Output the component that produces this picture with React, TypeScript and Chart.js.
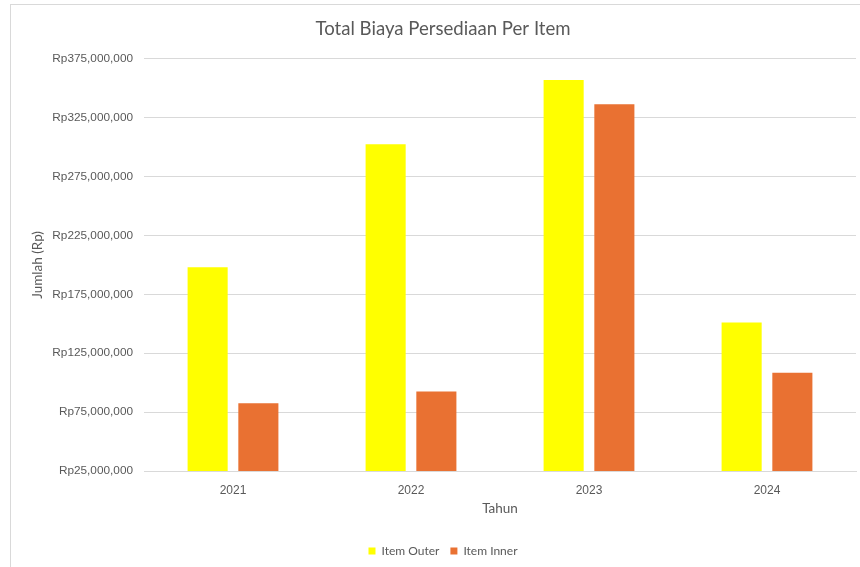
import React, { useEffect, useRef } from "react";
import { Chart, registerables } from "chart.js";

Chart.register(...registerables);

const categories = ["2021", "2022", "2023", "2024"];
const itemOuter = [198000000, 302500000, 357000000, 151000000];
const itemInner = [82500000, 92500000, 336500000, 108500000];
const yMin = 25000000;
const yMax = 375000000;
const yStep = 50000000;

const TEXT = "#595959";
const GRID = "#d9d9d9";

export default function App() {
  const ref = useRef<HTMLCanvasElement | null>(null);

  useEffect(() => {
    if (!ref.current) return;
    const chart = new Chart(ref.current, {
      type: "bar",
      data: {
        labels: categories,
        datasets: [
          {
            label: "Item Outer",
            data: itemOuter,
            backgroundColor: "#FFFF00",
            categoryPercentage: 0.57,
            barPercentage: 0.79,
          },
          {
            label: "Item Inner",
            data: itemInner,
            backgroundColor: "#E97132",
            categoryPercentage: 0.57,
            barPercentage: 0.79,
          },
        ],
      },
      options: {
        animation: false,
        responsive: false,
        maintainAspectRatio: false,
        layout: { padding: { left: 30, right: 4, top: 0, bottom: 0 } },
        plugins: {
          title: {
            display: true,
            text: "Total Biaya Persediaan Per Item",
            color: TEXT,
            font: { family: "Lato", size: 18.6, weight: "normal" },
            padding: { top: 18, bottom: 18.5 },
          },
          legend: {
            position: "bottom",
            labels: {
              boxWidth: 7,
              boxHeight: 7,
              padding: 11,
              color: TEXT,
              font: { family: "Lato", size: 12 },
            },
          },
          tooltip: { enabled: false },
        },
        scales: {
          x: {
            grid: { display: false, drawTicks: false },
            border: { display: true, color: GRID, width: 1 },
            ticks: {
              color: TEXT,
              padding: 12,
              font: { family: "Liberation Sans", size: 12 },
            },
            title: {
              display: true,
              text: "Tahun",
              color: TEXT,
              font: { family: "Lato", size: 13.5 },
              padding: { top: 0, bottom: 17 },
            },
            afterFit: (scale: any) => {
              scale.height = 63;
            },
          },
          y: {
            min: yMin,
            max: yMax,
            grid: { color: GRID, drawTicks: false, lineWidth: 1 },
            border: { display: false },
            ticks: {
              stepSize: yStep,
              color: TEXT,
              padding: 11,
              font: { family: "Liberation Sans", size: 11.8 },
              callback: (v: any) => "Rp" + Number(v).toLocaleString("en-US"),
            },
            title: {
              display: true,
              text: "Jumlah (Rp)",
              color: TEXT,
              font: { family: "Lato", size: 13.5 },
              padding: { top: 0, bottom: 0 },
            },
            afterFit: (scale: any) => {
              scale.width = 114;
            },
          },
        },
      },
    });
    return () => chart.destroy();
  }, []);

  return (
    <div style={{ position: "absolute", left: 0, top: 0, width: 860, height: 567, background: "#fff" }}>
      <div
        style={{
          position: "absolute",
          left: 10,
          top: 4,
          right: 0,
          bottom: 0,
          borderLeft: "1px solid #d9d9d9",
          borderTop: "1px solid #d9d9d9",
        }}
      />
      <canvas ref={ref} width={860} height={567} style={{ position: "absolute", left: 0, top: 0 }} />
    </div>
  );
}
